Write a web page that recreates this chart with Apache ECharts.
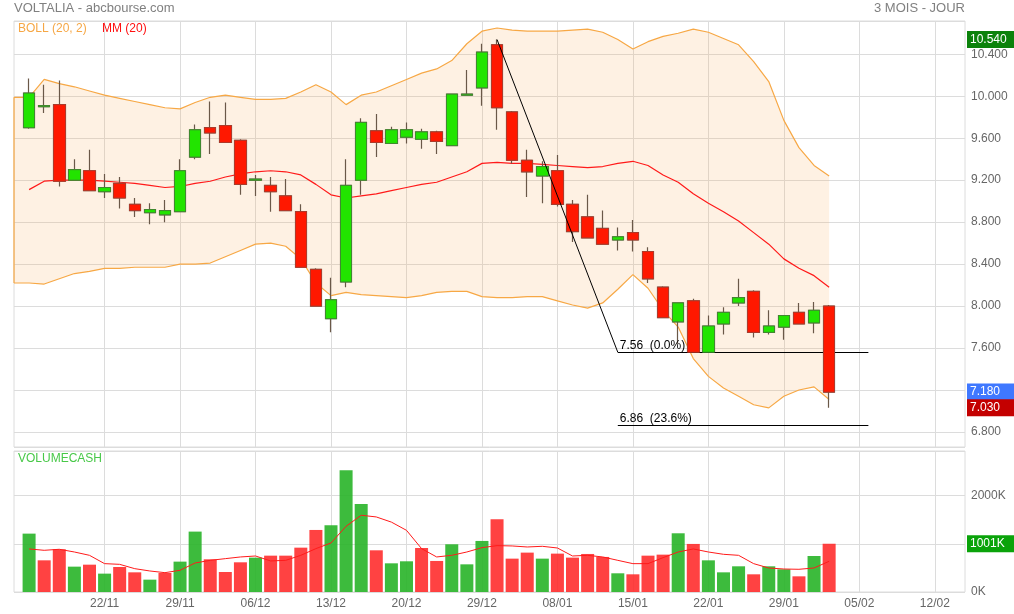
<!DOCTYPE html>
<html><head><meta charset="utf-8">
<script src="https://cdn.jsdelivr.net/npm/echarts@6/dist/echarts.min.js"></script>
<style>html,body{margin:0;padding:0;background:#fff}#c{width:1014px;height:614px}</style>
</head><body><div id="c"></div>
<script>
// ---- data ----
const dates = ['','15/11','16/11','17/11','20/11','21/11','22/11','23/11','24/11','27/11','28/11','29/11','30/11','01/12','04/12','05/12','06/12','07/12','08/12','11/12','12/12','13/12','14/12','15/12','18/12','19/12','20/12','21/12','22/12','27/12','28/12','29/12','02/01','03/01','04/01','05/01','08/01','09/01','10/01','11/01','12/01','15/01','16/01','17/01','18/01','19/01','22/01','23/01','24/01','25/01','26/01','29/01','30/01','31/01','01/02','02/02','05/02','06/02','07/02','08/02','09/02','12/02','13/02','14/02'];
const opens  = [9.70,9.90,9.92,9.20,9.29,9.09,9.17,8.97,8.89,8.87,8.90,9.42,9.70,9.72,9.58,9.20,9.15,9.05,8.90,8.35,7.88,8.23,9.20,9.67,9.55,9.61,9.59,9.66,9.53,10.01,10.08,10.49,9.85,9.39,9.24,9.29,8.97,8.85,8.74,8.63,8.70,8.52,8.18,7.85,8.05,7.56,7.83,8.03,8.14,7.75,7.80,7.94,7.84,8.00];
const closes = [10.03,9.91,9.19,9.30,9.10,9.13,9.03,8.91,8.92,8.91,9.29,9.68,9.65,9.56,9.16,9.21,9.09,8.91,8.37,8.00,8.06,9.15,9.75,9.56,9.68,9.68,9.66,9.57,10.02,10.02,10.42,9.89,9.39,9.28,9.33,8.97,8.71,8.65,8.59,8.66,8.63,8.26,7.89,8.03,7.56,7.81,7.94,8.08,7.75,7.81,7.91,7.83,7.96,7.18];
const lows   = [9.69,9.84,9.14,9.20,9.10,9.03,8.93,8.85,8.78,8.80,8.90,9.40,9.45,9.56,9.06,9.05,8.90,8.91,8.37,8.00,7.75,8.18,9.06,9.42,9.55,9.55,9.50,9.45,9.53,10.01,9.91,9.68,9.36,9.04,8.98,8.95,8.61,8.65,8.59,8.53,8.52,8.22,7.89,7.64,7.56,7.56,7.73,8.00,7.70,7.73,7.68,7.83,7.74,7.03];
const highs  = [10.17,10.11,10.15,9.40,9.49,9.26,9.23,9.03,8.98,9.01,9.40,9.73,9.95,9.94,9.59,9.25,9.23,9.21,8.97,8.36,8.27,9.40,9.79,9.83,9.71,9.75,9.69,9.67,10.02,10.25,10.50,10.54,9.86,9.49,9.38,9.44,9.01,9.06,8.91,8.75,8.82,8.56,8.19,8.03,8.07,7.91,7.99,8.26,8.15,7.96,7.91,8.03,8.04,8.01];
const bollUpper = [9.99,9.99,10.16,10.12,10.09,10.05,10.01,9.98,9.95,9.92,9.89,9.88,9.94,9.99,10.01,9.99,9.97,9.97,9.98,10.04,10.11,10.04,9.92,10.01,10.04,10.10,10.16,10.22,10.26,10.34,10.50,10.62,10.65,10.63,10.62,10.62,10.62,10.63,10.64,10.61,10.54,10.45,10.52,10.57,10.60,10.64,10.61,10.55,10.49,10.33,10.14,9.77,9.51,9.34,9.24];
const bollLower = [8.22,8.22,8.21,8.26,8.31,8.33,8.36,8.36,8.37,8.37,8.37,8.40,8.40,8.41,8.47,8.53,8.59,8.60,8.57,8.45,8.22,8.10,8.13,8.11,8.10,8.09,8.08,8.10,8.13,8.14,8.14,8.09,8.08,8.08,8.09,8.09,8.05,8.01,7.98,8.03,8.16,8.30,8.17,7.96,7.80,7.50,7.33,7.22,7.14,7.06,7.03,7.14,7.20,7.23,7.11];
const mm20 = [9.11,9.19,9.20,9.20,9.20,9.19,9.18,9.17,9.15,9.13,9.14,9.17,9.19,9.23,9.26,9.28,9.29,9.28,9.25,9.16,9.06,9.03,9.05,9.07,9.10,9.13,9.16,9.18,9.23,9.28,9.36,9.37,9.36,9.36,9.35,9.34,9.33,9.32,9.33,9.36,9.38,9.34,9.25,9.18,9.07,8.98,8.90,8.81,8.70,8.59,8.45,8.36,8.29,8.18];
const volumes = [1211,657,886,526,567,381,519,408,256,394,630,1253,678,415,616,713,754,754,920,1287,1384,2526,1827,865,595,637,913,644,990,574,1059,1509,692,817,692,796,713,789,727,388,367,754,775,1218,997,657,408,533,367,533,471,325,747,1001];
const volMA = [893,865,886,830,761,588,574,484,436,401,450,602,657,692,727,747,644,657,761,900,1017,1363,1592,1557,1450,1280,900,727,761,830,920,962,955,934,948,913,747,761,727,657,588,588,713,830,893,830,782,761,588,498,477,471,498,637];
const priceTicks = [6.8,7.2,7.6,8.0,8.4,8.8,9.2,9.6,10.0,10.4];
const volTicks = [0,1000,2000];
const fibStart = [32, 10.54];
const fibEnd = [40, 7.56];
const fibLevelValues = [7.56, 6.86];
const fibLevelNames = ['7.56  (0.0%)', '6.86  (23.6%)'];
const fibLevelEndIdx = 56.6;
const periodHigh = 10.54, lastClose = 7.18, lastLow = 7.03, lastVolume = 1001;

// ---- build ----
const FONT = "'Liberation Sans', Arial, sans-serif";
const upC = '#22e400', downC = '#ff1800';
const candleFull = ['-'].concat(opens.map((o,i)=>[o, closes[i], lows[i], highs[i]]));
const candleBody = ['-'].concat(opens.map((o,i)=>[o, closes[i], Math.min(o,closes[i]), Math.max(o,closes[i])]));
const volData = ['-'].concat(volumes.map((v,i)=>({
  value: v,
  itemStyle: {color: (i===0 || closes[i] >= closes[i-1]) ? 'rgba(40,180,40,0.9)' : 'rgba(255,40,40,0.88)'}
})));
const bandDiff = bollUpper.map((u,i)=>+(u - bollLower[i]).toFixed(3));
const weekly = (idx) => idx > 1 && (idx - 1) % 5 === 0;

const chart = echarts.init(document.getElementById('c'), null, {renderer:'canvas'});
const boxLabel = (bg, fmt) => ({
  show: true, position: 'end', distance: 2, color: '#fff', fontSize: 12, fontFamily: FONT,
  backgroundColor: bg, padding: [2,4,2,3], width: 40, lineHeight: 13, formatter: fmt
});
const hiddenLine = {color:'rgba(0,0,0,0)', width:1, type:'solid'};

chart.setOption({
  animation: false,
  textStyle: {fontFamily: FONT},
  title: [
    {text:'VOLTALIA - abcbourse.com', left:14, top:2, padding:0, textStyle:{color:'#808080', fontSize:13, fontWeight:'normal', fontFamily:FONT}},
    {text:'3 MOIS - JOUR', right:49, top:2, padding:0, textStyle:{color:'#808080', fontSize:13, fontWeight:'normal', fontFamily:FONT}},
    {text:'BOLL (20, 2)', left:18, top:23, padding:0, textStyle:{color:'#f6a745', fontSize:12, fontWeight:'normal', fontFamily:FONT}},
    {text:'MM (20)', left:102, top:23, padding:0, textStyle:{color:'#ff1010', fontSize:12, fontWeight:'normal', fontFamily:FONT}},
    {text:'VOLUMECASH', left:18, top:453, padding:0, textStyle:{color:'#48c848', fontSize:12, fontWeight:'normal', fontFamily:FONT}}
  ],
  grid: [
    {left:14, top:21, width:951, height:426, show:true, borderColor:'#dcdcdc', borderWidth:1, backgroundColor:'transparent'},
    {left:14, top:451, width:951, height:141, show:true, borderColor:'#dcdcdc', borderWidth:1, backgroundColor:'transparent'}
  ],
  xAxis: [
    {type:'category', gridIndex:0, data:dates, boundaryGap:false,
      axisLine:{show:false}, axisTick:{show:false}, axisLabel:{show:false},
      splitLine:{show:true, interval:(i)=>weekly(i), lineStyle:{color:'#dcdcdc', width:1}}},
    {type:'category', gridIndex:1, data:dates, boundaryGap:false,
      axisLine:{show:false}, axisTick:{show:false},
      axisLabel:{show:true, interval:(i)=>weekly(i), color:'#666', fontSize:12, margin:6, fontFamily:FONT},
      splitLine:{show:true, interval:(i)=>weekly(i), lineStyle:{color:'#dcdcdc', width:1}}},
    {type:'value', gridIndex:0, min:0, max:dates.length-1, show:false}
  ],
  yAxis: [
    {type:'value', gridIndex:0, position:'right', min:6.657, max:10.717,
      minInterval:0.4, maxInterval:0.4, splitNumber:10,
      axisLine:{show:false}, axisTick:{show:false},
      axisLabel:{color:'#666', fontSize:12, margin:6, fontFamily:FONT, showMinLabel:false, showMaxLabel:false,
        formatter:(v)=> priceTicks.some(t=>Math.abs(t-v)<1e-6) ? v.toFixed(3) : ''},
      splitLine:{show:true, lineStyle:{color:'#dcdcdc', width:1}}},
    {type:'value', gridIndex:1, position:'right', min:0, max:2925, interval:1000,
      axisLine:{show:false}, axisTick:{show:false},
      axisLabel:{color:'#666', fontSize:12, margin:6, fontFamily:FONT, showMaxLabel:false,
        formatter:(v)=> volTicks.indexOf(v) >= 0 ? v + 'K' : ''},
      splitLine:{show:true, lineStyle:{color:'#dcdcdc', width:1}}}
  ],
  series: [
    {name:'bandBase', type:'line', xAxisIndex:0, yAxisIndex:0, data:bollLower, stack:'boll',
      symbol:'none', lineStyle:{opacity:0}, silent:true, z:1},
    {name:'bandFill', type:'line', xAxisIndex:0, yAxisIndex:0, data:bandDiff, stack:'boll',
      symbol:'none', lineStyle:{opacity:0}, areaStyle:{color:'rgba(250,178,100,0.26)'}, silent:true, z:1},
    {name:'upper', type:'line', xAxisIndex:0, yAxisIndex:0, data:bollUpper, symbol:'none',
      lineStyle:{color:'#f7a845', width:1.2}, z:2},
    {name:'lower', type:'line', xAxisIndex:0, yAxisIndex:0, data:bollLower, symbol:'none',
      lineStyle:{color:'#f7a845', width:1.2}, z:2},
    {name:'bandEdge', type:'line', xAxisIndex:2, yAxisIndex:0, data:[[0,bollLower[0]],[0,bollUpper[0]]], symbol:'none',
      lineStyle:{color:'#f7a845', width:1.2}, z:2},
    {name:'mm', type:'line', xAxisIndex:0, yAxisIndex:0, data:['-'].concat(mm20), symbol:'none',
      lineStyle:{color:'#ff1a1a', width:1.2}, z:3},
    {name:'wick', type:'candlestick', xAxisIndex:0, yAxisIndex:0, data:candleFull, barWidth:12,
      itemStyle:{color:upC, color0:downC, borderColor:'#6a5848', borderColor0:'#6a5848', borderWidth:1.2}, z:4},
    {name:'body', type:'candlestick', xAxisIndex:0, yAxisIndex:0, data:candleBody, barWidth:12,
      itemStyle:{color:upC, color0:downC, borderColor:'#3f8a30', borderColor0:'#b0392a', borderWidth:1}, z:5,
      markLine:{silent:true, symbol:['none','none'], animation:false, lineStyle:hiddenLine, z:10,
        data:[
          {yAxis:periodHigh, lineStyle:hiddenLine, label:boxLabel('#0b820b', p=>p.value.toFixed(3))},
          {yAxis:lastClose, lineStyle:hiddenLine, label:boxLabel('#3f78ff', p=>p.value.toFixed(3))},
          {yAxis:lastLow, lineStyle:hiddenLine, label:boxLabel('#c40000', p=>p.value.toFixed(3))}
        ]}},
    {name:'fib', type:'line', xAxisIndex:2, yAxisIndex:0, data:[fibStart, fibEnd], symbol:'none',
      lineStyle:{color:'#000', width:1}, z:6,
      markLine:{silent:true, symbol:['none','none'], animation:false,
        lineStyle:{color:'#000', width:1, type:'solid'},
        label:{show:true, position:'insideStartTop', color:'#000', fontSize:12, fontFamily:FONT, distance:[2,1],
          formatter:(p)=>p.name},
        data: fibLevelValues.map((v,i)=>[
          {name:fibLevelNames[i], coord:[fibEnd[0], v]},
          {coord:[fibLevelEndIdx, v]}
        ])}},
    {name:'volume', type:'bar', xAxisIndex:1, yAxisIndex:1, data:volData, barWidth:13, z:2,
      markLine:{silent:true, symbol:['none','none'], animation:false, lineStyle:hiddenLine, z:10,
        data:[{yAxis:lastVolume, lineStyle:hiddenLine, label:boxLabel('#0aa30a', p=>Math.round(p.value)+'K')}]}},
    {name:'volMA', type:'line', xAxisIndex:1, yAxisIndex:1, data:['-'].concat(volMA), symbol:'none',
      lineStyle:{color:'#ff1a1a', width:1}, z:3}
  ]
});
</script>
</body></html>
